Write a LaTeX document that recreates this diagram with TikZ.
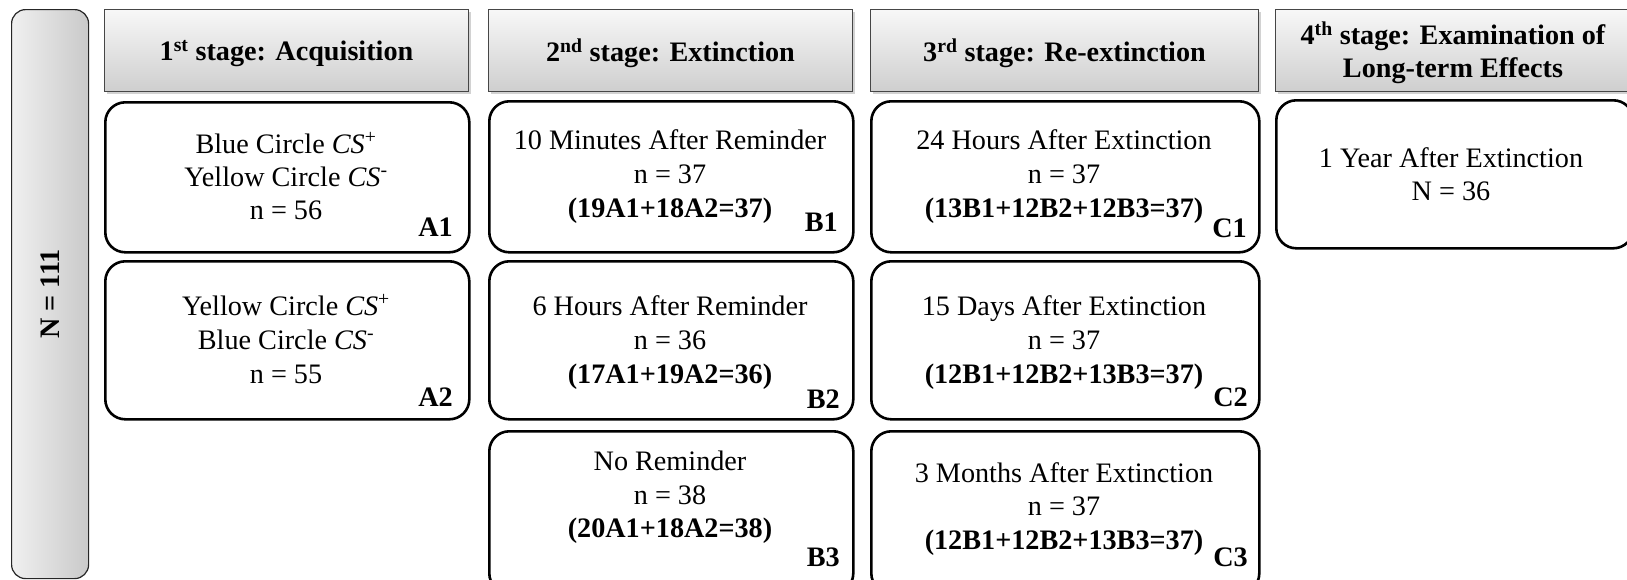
\documentclass[tikz,border=0pt]{standalone}
\usepackage{fontspec}
\setmainfont{Liberation Serif}
\usetikzlibrary{shadows}
\newcommand\fsz{\fontsize{28.2}{33}\selectfont}
\begin{document}
\begin{tikzpicture}[x=1pt,y=-1pt,
 hdr/.style={draw=gray!55!black, line width=1pt, top color=gray!6, bottom color=gray!38,
   anchor=north west, inner sep=0pt, minimum height=82pt,
   drop shadow={shadow xshift=2pt, shadow yshift=-2pt, opacity=0.35}},
 htxt/.style={inner sep=0pt, font=\fsz\bfseries, align=center},
 grp/.style={draw=black, line width=2.6pt, rounded corners=20pt, anchor=north west, inner sep=0pt},
 txt/.style={anchor=base, inner sep=0pt, font=\fsz},
 btxt/.style={anchor=base, inner sep=0pt, font=\fsz\bfseries},
 lab/.style={anchor=base east, inner sep=0pt, font=\fsz\bfseries}]
\useasboundingbox (0,0) rectangle (1627,579);
\fill[white] (0,0) rectangle (1627,579);

% total bar
\node[draw=gray!30!black, line width=1.2pt, rounded corners=14pt, left color=gray!12, right color=gray!42,
  anchor=north west, inner sep=0pt, minimum width=77pt, minimum height=569pt] (bar) at (11,9) {};
\node[rotate=90, font=\fsz\bfseries, inner sep=0pt] (ntot) at (bar.center) {N = 111};

% headers
\node[hdr, minimum width=364pt] (h1) at (104,9) {};
\node[hdr, minimum width=364pt] (h2) at (488,9) {};
\node[hdr, minimum width=388pt] (h3) at (870,9) {};
\node[hdr, minimum width=355pt] (h4) at (1275,9) {};
\node[htxt] (h1t) at ([yshift=-3pt]h1.center) {1\textsuperscript{st} stage: Acquisition};
\node[htxt] (h2t) at ([yshift=-3pt]h2.center) {2\textsuperscript{nd} stage: Extinction};
\node[htxt] (h3t) at ([yshift=-3pt]h3.center) {3\textsuperscript{rd} stage: Re-extinction};
\node[htxt] (h4t) at ([yshift=-2pt]h4.center) {4\textsuperscript{th} stage: Examination of\\Long-term Effects};

% group boxes
\node[grp, minimum width=364pt, minimum height=150pt] (a1) at (104,101) {};
\node[grp, minimum width=364pt, minimum height=158pt] (a2) at (104,260) {};
\node[grp, minimum width=364pt, minimum height=151pt] (b1) at (488,100) {};
\node[grp, minimum width=364pt, minimum height=158pt] (b2) at (488,260) {};
\node[grp, minimum width=364pt, minimum height=162pt] (b3) at (488,430) {};
\node[grp, minimum width=388pt, minimum height=151pt] (c1) at (870,100) {};
\node[grp, minimum width=388pt, minimum height=158pt] (c2) at (870,260) {};
\node[grp, minimum width=388pt, minimum height=162pt] (c3) at (870,430) {};
\node[grp, minimum width=357pt, minimum height=148pt] (d1) at (1275,99) {};

% A texts
\node[txt] (a1t1) at (286,153) {Blue Circle \textit{CS}\textsuperscript{+}};
\node[txt] (a1t2) at (286,186) {Yellow Circle \textit{CS}\textsuperscript{-}};
\node[txt] (a1t3) at (286,219) {n = 56};
\node[lab] (a1l) at (453,236) {A1};
\node[txt] (a2t1) at (286,315) {Yellow Circle \textit{CS}\textsuperscript{+}};
\node[txt] (a2t2) at (286,349) {Blue Circle \textit{CS}\textsuperscript{-}};
\node[txt] (a2t3) at (286,383) {n = 55};
\node[lab] (a2l) at (453,406) {A2};

% B texts
\node[txt] (b1t1) at (670,149) {10 Minutes After Reminder};
\node[txt] (b1t2) at (670,183) {n = 37};
\node[btxt] (b1t3) at (670,217) {(19A1+18A2=37)};
\node[lab] (b1l) at (838,231) {B1};
\node[txt] (b2t1) at (670,315) {6 Hours After Reminder};
\node[txt] (b2t2) at (670,349) {n = 36};
\node[btxt] (b2t3) at (670,383) {(17A1+19A2=36)};
\node[lab] (b2l) at (840,408) {B2};
\node[txt] (b3t1) at (670,470) {No Reminder};
\node[txt] (b3t2) at (670,504) {n = 38};
\node[btxt] (b3t3) at (670,537) {(20A1+18A2=38)};
\node[lab] (b3l) at (840,566) {B3};

% C texts
\node[txt] (c1t1) at (1064,149) {24 Hours After Extinction};
\node[txt] (c1t2) at (1064,183) {n = 37};
\node[btxt] (c1t3) at (1064,217) {(13B1+12B2+12B3=37)};
\node[lab] (c1l) at (1247,237) {C1};
\node[txt] (c2t1) at (1064,315) {15 Days After Extinction};
\node[txt] (c2t2) at (1064,349) {n = 37};
\node[btxt] (c2t3) at (1064,383) {(12B1+12B2+13B3=37)};
\node[lab] (c2l) at (1248,406) {C2};
\node[txt] (c3t1) at (1064,482) {3 Months After Extinction};
\node[txt] (c3t2) at (1064,515) {n = 37};
\node[btxt] (c3t3) at (1064,549) {(12B1+12B2+13B3=37)};
\node[lab] (c3l) at (1248,566) {C3};

% D texts
\node[txt] (d1t1) at (1451,167) {1 Year After Extinction};
\node[txt] (d1t2) at (1451,200) {N = 36};
\end{tikzpicture}
\end{document}
